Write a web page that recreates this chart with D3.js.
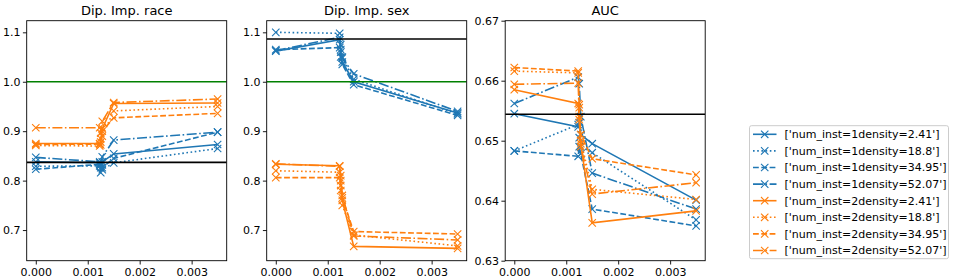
<!DOCTYPE html>
<html>
<head>
<meta charset="utf-8">
<script src="https://cdn.jsdelivr.net/npm/d3@7"></script>
<style>
  body { margin: 0; background: #fff; }
  text { font-family: "DejaVu Sans", sans-serif; fill: #000; }
</style>
</head>
<body>
<script>
// data
const xValues = [0, 0.00123, 0.00125, 0.00128, 0.0015, 0.0035];

const seriesNames = [
  "['num_inst=1density=2.41']",
  "['num_inst=1density=18.8']",
  "['num_inst=1density=34.95']",
  "['num_inst=1density=52.07']",
  "['num_inst=2density=2.41']",
  "['num_inst=2density=18.8']",
  "['num_inst=2density=34.95']",
  "['num_inst=2density=52.07']"
];

const raceValues = [
  [0.838, 0.836, 0.832, 0.838, 0.854, 0.873],
  [0.829, 0.830, 0.826, 0.822, 0.836, 0.865],
  [0.823, 0.833, 0.816, 0.826, 0.845, 0.898],
  [0.847, 0.838, 0.835, 0.848, 0.882, 0.898],
  [0.875, 0.875, 0.878, 0.905, 0.956, 0.957],
  [0.871, 0.870, 0.872, 0.890, 0.941, 0.950],
  [0.873, 0.874, 0.885, 0.900, 0.927, 0.936],
  [0.907, 0.907, 0.896, 0.920, 0.958, 0.965]
];

const sexValues = [
  [1.062, 1.085, 1.060, 1.040, 1.000, 0.937],
  [1.100, 1.098, 1.075, 1.050, 1.005, 0.935],
  [1.065, 1.069, 1.050, 1.035, 0.994, 0.932],
  [1.063, 1.090, 1.065, 1.048, 1.016, 0.940],
  [0.833, 0.830, 0.800, 0.760, 0.667, 0.663],
  [0.820, 0.817, 0.790, 0.750, 0.690, 0.668],
  [0.806, 0.806, 0.780, 0.765, 0.697, 0.692],
  [0.834, 0.829, 0.810, 0.770, 0.688, 0.680]
];

const aucValues = [
  [0.6545, 0.6523, 0.6530, 0.6510, 0.6495, 0.6401],
  [0.6483, 0.6527, 0.6505, 0.6490, 0.6480, 0.6368],
  [0.6483, 0.6474, 0.6490, 0.6478, 0.6386, 0.6358],
  [0.6562, 0.6606, 0.6595, 0.6540, 0.6446, 0.6386],
  [0.6585, 0.6562, 0.6535, 0.6495, 0.6363, 0.6383],
  [0.6616, 0.6613, 0.6560, 0.6500, 0.6419, 0.6402],
  [0.6622, 0.6616, 0.6555, 0.6510, 0.6470, 0.6443],
  [0.6594, 0.6596, 0.6540, 0.6490, 0.6411, 0.6430]
];

const titles = ["Dip. Imp. race", "Dip. Imp. sex", "AUC"];
const xTicks = [0, 0.001, 0.002, 0.003];
const diTicks = [0.7, 0.8, 0.9, 1.0, 1.1];
const aucTicks = [0.63, 0.64, 0.65, 0.66, 0.67];
const baselines = [0.837, 1.0864, 0.6544];   // black reference lines
const fairLine = 1.0;                          // green line on the DI panels

const colors = ["#1f77b4", "#1f77b4", "#1f77b4", "#1f77b4",
                "#ff7f0e", "#ff7f0e", "#ff7f0e", "#ff7f0e"];
const dashes = [null, "1.6,2.6", "5.8,2.5", "10,2.5,1.6,2.5",
                null, "1.6,2.6", "5.8,2.5", "10,2.5,1.6,2.5"];

let svg = null;
const panelW = 200, panelH = 240, panelTop = 20.7;
const panelLeft = [26.7, 266.7, 505.2];

setupSvg();
drawPanel(0, raceValues, [0.638, 1.1235], diTicks, d3.format(".1f"), true);
drawPanel(1, sexValues, [0.638, 1.1235], diTicks, d3.format(".1f"), true);
drawPanel(2, aucValues, [0.63, 0.67], aucTicks, d3.format(".2f"), false);
drawLegend();

function setupSvg() {
  svg = d3.select("body").append("svg")
    .attr("width", 955)
    .attr("height", 280);
  svg.append("rect").attr("width", 955).attr("height", 280).attr("fill", "#fff");
}

function xMarker(s) {
  return `M${-s},${-s}L${s},${s}M${-s},${s}L${s},${-s}`;
}

function drawPanel(i, values, yDomain, yTicks, fmt, showGreen) {
  const pad = (0.0035 - 0) * 0.05;
  const x = d3.scaleLinear().domain([-pad, 0.0035 + pad]).range([0, panelW]);
  const y = d3.scaleLinear().domain(yDomain).range([panelH, 0]);

  const g = svg.append("g")
    .attr("transform", `translate(${panelLeft[i]}, ${panelTop})`);

  const clipId = "clip" + i;
  g.append("clipPath").attr("id", clipId)
    .append("rect").attr("width", panelW).attr("height", panelH);

  const plot = g.append("g").attr("clip-path", `url(#${clipId})`);

  const line = d3.line()
    .x((d, k) => x(xValues[k]))
    .y(d => y(d));

  values.forEach((vals, s) => {
    plot.append("path")
      .datum(vals)
      .attr("fill", "none")
      .attr("stroke", colors[s])
      .attr("stroke-width", 1.6)
      .attr("stroke-dasharray", dashes[s])
      .attr("d", line);

    plot.selectAll(null)
      .data(vals)
      .enter().append("path")
      .attr("transform", (d, k) => `translate(${x(xValues[k])}, ${y(d)})`)
      .attr("d", xMarker(3.7))
      .attr("stroke", colors[s])
      .attr("stroke-width", 1.1)
      .attr("fill", "none");
  });

  if (showGreen) {
    plot.append("line")
      .attr("x1", 0).attr("x2", panelW)
      .attr("y1", y(fairLine)).attr("y2", y(fairLine))
      .attr("stroke", "#008000").attr("stroke-width", 1.6);
  }
  plot.append("line")
    .attr("x1", 0).attr("x2", panelW)
    .attr("y1", y(baselines[i])).attr("y2", y(baselines[i]))
    .attr("stroke", "#000").attr("stroke-width", 1.6);

  // axes
  const xAxis = g.append("g")
    .attr("transform", `translate(0, ${panelH})`)
    .call(d3.axisBottom(x).tickValues(xTicks).tickFormat(d3.format(".3f"))
      .tickSize(3.8).tickPadding(3.5));
  const yAxis = g.append("g")
    .call(d3.axisLeft(y).tickValues(yTicks).tickFormat(fmt)
      .tickSize(3.8).tickPadding(2.5));
  [xAxis, yAxis].forEach(a => {
    a.select(".domain").remove();
    a.selectAll("line").attr("stroke", "#000").attr("stroke-width", 0.9);
    a.selectAll("text").attr("font-size", 11)
      .style("font-family", "'DejaVu Sans', sans-serif");
  });

  g.append("rect")
    .attr("width", panelW).attr("height", panelH)
    .attr("fill", "none").attr("stroke", "#000").attr("stroke-width", 0.9);

  g.append("text")
    .attr("x", panelW / 2).attr("y", -6)
    .attr("text-anchor", "middle")
    .attr("font-size", 13)
    .text(titles[i]);
}

function drawLegend() {
  const lx = 749.5, ly = 125.7, rowH = 16.6;
  const lg = svg.append("g").attr("transform", `translate(${lx}, ${ly})`);

  lg.append("rect")
    .attr("width", 199).attr("height", 133)
    .attr("rx", 2)
    .attr("fill", "#fff").attr("fill-opacity", 0.8)
    .attr("stroke", "#ccc").attr("stroke-width", 1);

  seriesNames.forEach((name, s) => {
    const cy = 8.6 + s * rowH;
    lg.append("line")
      .attr("x1", 3.5).attr("x2", 27)
      .attr("y1", cy).attr("y2", cy)
      .attr("stroke", colors[s]).attr("stroke-width", 1.6)
      .attr("stroke-dasharray", dashes[s]);
    lg.append("path")
      .attr("transform", `translate(15.2, ${cy})`)
      .attr("d", xMarker(3.7))
      .attr("stroke", colors[s]).attr("stroke-width", 1.1)
      .attr("fill", "none");
    lg.append("text")
      .attr("x", 35).attr("y", cy)
      .attr("dy", "0.35em")
      .attr("font-size", 11)
      .text(name);
  });
}
</script>
</body>
</html>
